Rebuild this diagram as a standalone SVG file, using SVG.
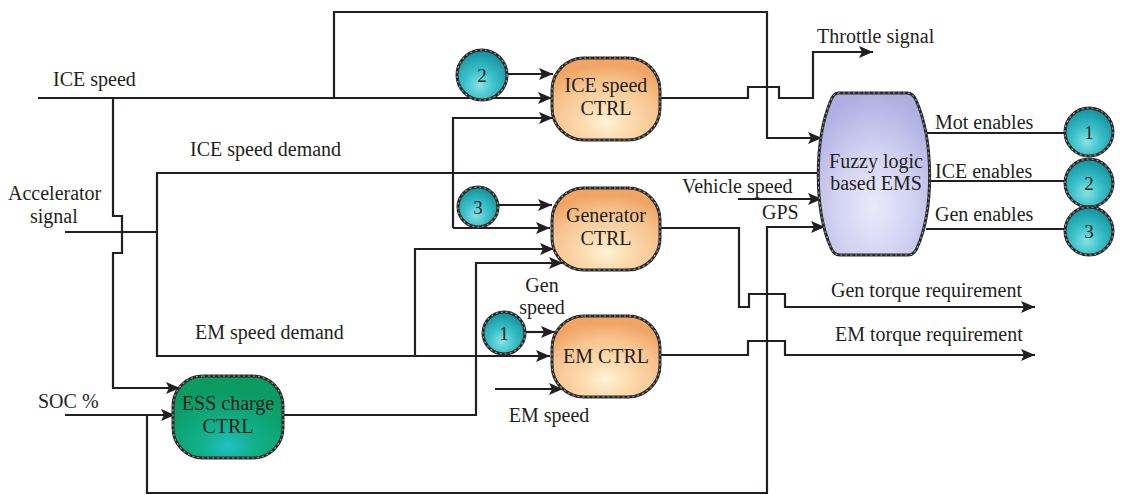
<svg xmlns="http://www.w3.org/2000/svg" width="1124" height="495" viewBox="0 0 1124 495">
<defs>
<style>
.w{fill:none;stroke:#231f20;stroke-width:2.2;stroke-linejoin:miter}
.a{marker-end:url(#arr)}
.t{font-family:"Liberation Serif","Times New Roman",serif;font-size:20px;fill:#231f20}
.m{text-anchor:middle}
.edge{stroke:#2a2a2a;stroke-width:3}
.tex{fill:none;stroke:#9a9a9a;stroke-width:1.2;stroke-dasharray:2 3}
.cn{font-family:"Liberation Serif","Times New Roman",serif;font-size:19px;fill:#231f20;text-anchor:middle}
</style>
<marker id="arr" markerUnits="userSpaceOnUse" markerWidth="16" markerHeight="13" refX="14" refY="6" orient="auto">
<path d="M0,0 L14,6 L0,12 L3,6 Z" fill="#231f20"/>
</marker>
<radialGradient id="gOr" cx="50%" cy="78%" r="70%">
<stop offset="0" stop-color="#fff3d6"/>
<stop offset="0.3" stop-color="#fcdcb0"/>
<stop offset="0.7" stop-color="#f8c48f"/>
<stop offset="1" stop-color="#f0a565"/>
</radialGradient>
<radialGradient id="gGr" cx="50%" cy="85%" r="70%">
<stop offset="0" stop-color="#1fc2c4"/>
<stop offset="0.35" stop-color="#12b08a"/>
<stop offset="1" stop-color="#0a9a62"/>
</radialGradient>
<radialGradient id="gLv" cx="50%" cy="70%" r="70%">
<stop offset="0" stop-color="#eaeafb"/>
<stop offset="0.5" stop-color="#d2d2f3"/>
<stop offset="1" stop-color="#aeaee2"/>
</radialGradient>
<radialGradient id="gCy" cx="45%" cy="70%" r="65%">
<stop offset="0" stop-color="#8ae2e6"/>
<stop offset="0.45" stop-color="#3cc2ca"/>
<stop offset="1" stop-color="#1596a2"/>
</radialGradient>
</defs>
<rect width="1124" height="495" fill="#ffffff"/>

<g id="connectors">
<path class="w a" d="M38,98 H552"/>
<path class="w a" d="M334,98 V12 H767 V138 H822"/>
<path class="w a" d="M113,98 V216 H122 V253 H113 V388 H180"/>
<path class="w" d="M65,232 H157"/>
<path class="w" d="M157,232 V173 H822"/>
<path class="w a" d="M157,232 V356 H550"/>
<path class="w a" d="M415,356 V249 H554"/>
<path class="w a" d="M506,74 H553"/>
<path class="w a" d="M453,228 V118 H553"/>
<path class="w a" d="M453,228 H550"/>
<path class="w a" d="M498,205 H552"/>
<path class="w a" d="M283,415 H476 V263 H563"/>
<path class="w a" d="M525,332 H555"/>
<path class="w a" d="M495,389 H563"/>
<path class="w a" d="M65,415 H175"/>
<path class="w a" d="M147,415 V493 H767 V227 H825"/>
<path class="w a" d="M660,98 H748 V87 H779 V98 H813 V52 H873"/>
<path class="w a" d="M660,228 H739 V307 H749 V294 H785 V307 H1035"/>
<path class="w a" d="M660,355 H748 V341 H785 V355 H1035"/>
<path class="w a" d="M738,199 H822"/>
<path class="w" d="M926,133 H1066"/>
<path class="w" d="M926,181 H1066"/>
<path class="w" d="M926,229 H1066"/>
</g>

<g id="labels">
<text class="t" x="53" y="86">ICE speed</text>
<text class="t" x="190" y="156">ICE speed demand</text>
<text class="t" x="8" y="200">Accelerator</text>
<text class="t" x="30" y="223">signal</text>
<text class="t" x="195" y="339">EM speed demand</text>
<text class="t" x="38" y="408">SOC %</text>
<text class="t m" x="542" y="292">Gen</text>
<text class="t m" x="542" y="314">speed</text>
<text class="t m" x="549" y="422">EM speed</text>
<text class="t" x="817" y="43">Throttle signal</text>
<text class="t" x="682" y="193">Vehicle speed</text>
<text class="t" x="762" y="219">GPS</text>
<text class="t" x="935" y="129">Mot enables</text>
<text class="t" x="935" y="178">ICE enables</text>
<text class="t" x="935" y="221">Gen enables</text>
<text class="t" x="831" y="297">Gen torque requirement</text>
<text class="t" x="835" y="341">EM torque requirement</text>
</g>

<g id="ice-speed-ctrl">
<rect x="552" y="58" width="108" height="82" rx="32" ry="32" fill="url(#gOr)" class="edge"/>
<rect x="552" y="58" width="108" height="82" rx="32" ry="32" class="tex"/>
<text class="t m" x="606" y="92">ICE speed</text>
<text class="t m" x="606" y="115">CTRL</text>
</g>

<g id="generator-ctrl">
<rect x="552" y="188" width="108" height="82" rx="32" ry="32" fill="url(#gOr)" class="edge"/>
<rect x="552" y="188" width="108" height="82" rx="32" ry="32" class="tex"/>
<text class="t m" x="606" y="222">Generator</text>
<text class="t m" x="606" y="245">CTRL</text>
</g>

<g id="em-ctrl">
<rect x="552" y="316" width="108" height="81" rx="32" ry="32" fill="url(#gOr)" class="edge"/>
<rect x="552" y="316" width="108" height="81" rx="32" ry="32" class="tex"/>
<text class="t m" x="606" y="363">EM CTRL</text>
</g>

<g id="ess-charge-ctrl">
<rect x="173" y="376" width="110" height="82" rx="30" ry="30" fill="url(#gGr)" class="edge"/>
<rect x="173" y="376" width="110" height="82" rx="30" ry="30" class="tex"/>
<text class="t m" x="228" y="410">ESS charge</text>
<text class="t m" x="228" y="433">CTRL</text>
</g>

<g id="fuzzy-ems">
<path d="M838,93 L907,93 Q913,93 916,100 C934,140 934,210 917,248 Q914,255 908,255 L840,255 Q834,255 831,248 C814,210 814,140 831,100 Q834,93 838,93 Z" fill="url(#gLv)" class="edge"/>
<path d="M838,93 L907,93 Q913,93 916,100 C934,140 934,210 917,248 Q914,255 908,255 L840,255 Q834,255 831,248 C814,210 814,140 831,100 Q834,93 838,93 Z" class="tex"/>
<text class="t m" x="876" y="168">Fuzzy logic</text>
<text class="t m" x="876" y="190">based EMS</text>
</g>

<g id="circle-2-in">
<circle cx="482" cy="75" r="25" fill="url(#gCy)" class="edge"/>
<circle cx="482" cy="75" r="25" class="tex"/>
<text class="cn" x="482" y="82">2</text>
</g>
<g id="circle-3-in">
<circle cx="478" cy="207" r="20" fill="url(#gCy)" class="edge"/>
<circle cx="478" cy="207" r="20" class="tex"/>
<text class="cn" x="478" y="214">3</text>
</g>
<g id="circle-1-in">
<circle cx="504" cy="333" r="21" fill="url(#gCy)" class="edge"/>
<circle cx="504" cy="333" r="21" class="tex"/>
<text class="cn" x="504" y="340">1</text>
</g>
<g id="circle-1-out">
<circle cx="1089" cy="132" r="24" fill="url(#gCy)" class="edge"/>
<circle cx="1089" cy="132" r="24" class="tex"/>
<text class="cn" x="1089" y="139">1</text>
</g>
<g id="circle-2-out">
<circle cx="1089" cy="183" r="24" fill="url(#gCy)" class="edge"/>
<circle cx="1089" cy="183" r="24" class="tex"/>
<text class="cn" x="1089" y="190">2</text>
</g>
<g id="circle-3-out">
<circle cx="1089" cy="231" r="24" fill="url(#gCy)" class="edge"/>
<circle cx="1089" cy="231" r="24" class="tex"/>
<text class="cn" x="1089" y="238">3</text>
</g>
</svg>
